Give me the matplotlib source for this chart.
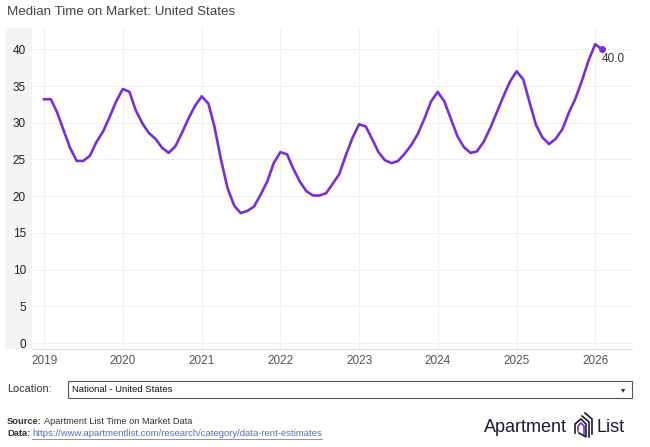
import numpy as np
import pandas as pd
import matplotlib
matplotlib.use("Agg")
import matplotlib.pyplot as plt
import matplotlib.dates as mdates
from matplotlib.patches import Rectangle

plt.rcParams["font.family"] = ["Liberation Sans", "DejaVu Sans"]

# median days on market, monthly from Jan 2019
values = [33.2, 33.2, 31.5, 29.0, 26.6, 24.8, 24.8, 25.5, 27.4, 28.8, 30.8, 32.9,
          34.6, 34.2, 31.7, 29.9, 28.6, 27.8, 26.6, 25.9, 26.8, 28.6, 30.6, 32.3,
          33.6, 32.6, 29.5, 24.9, 21.1, 18.7, 17.7, 18.0, 18.6, 20.2, 22.0, 24.5,
          26.0, 25.7, 23.8, 22.0, 20.7, 20.1, 20.1, 20.4, 21.7, 23.0, 25.6, 27.9,
          29.8, 29.5, 27.9, 26.0, 24.9, 24.5, 24.8, 25.8, 27.0, 28.5, 30.6, 32.9,
          34.2, 32.9, 30.6, 28.2, 26.7, 25.9, 26.1, 27.4, 29.3, 31.4, 33.6, 35.6,
          37.0, 35.9, 32.9, 29.7, 28.0, 27.1, 27.8, 29.1, 31.4, 33.3, 35.8, 38.5,
          40.7, 40.0]
start = "2019-01-01"
years = [2019, 2020, 2021, 2022, 2023, 2024, 2025, 2026]
yticks = [0, 5, 10, 15, 20, 25, 30, 35, 40]

months = pd.date_range(start, periods=len(values), freq="MS")

W, H = 650, 447
fig = plt.figure(figsize=(W / 100, H / 100), dpi=100)
fig.patch.set_facecolor("white")

def fx(px):
    return px / W

def fy(py):
    return 1 - py / H

# grey strip behind the y labels
fig.patches.append(Rectangle((fx(5), fy(349)), fx(27), fy(28) - fy(349),
                             transform=fig.transFigure, facecolor="#f4f4f4",
                             edgecolor="none", zorder=-1))

ax = fig.add_axes([fx(33), fy(349), fx(632 - 33), fy(28) - fy(349)])
ax.set_facecolor("white")

line_color = "#7a2ed6"
ax.plot(months, values, color=line_color, lw=1.9, solid_joinstyle="round", zorder=3)
ax.plot(months[-1], values[-1], "o", color=line_color, ms=4, zorder=4)
ax.annotate("%.1f" % values[-1], (months[-1], values[-1]), xytext=(0, -7),
            textcoords="offset points", ha="left", va="center", fontsize=8.5,
            color="#333333")

t0 = mdates.date2num(pd.Timestamp(start))
ax.set_xlim(t0 - 1.7 * 30.44, t0 + 89.6 * 30.44)
ax.set_ylim(-0.8, 42.9)

ax.set_xticks([pd.Timestamp(f"{y}-01-01") for y in years])
ax.set_xticklabels([str(y) for y in years])
ax.set_yticks(yticks)
ax.set_yticklabels([str(v) for v in yticks])
ax.tick_params(axis="x", length=0, pad=4, labelsize=8.5, labelcolor="#555555")
ax.tick_params(axis="y", length=0, pad=5, labelsize=8.5, labelcolor="#222222")

ax.grid(True, color="#f0f0f0", lw=0.8)
ax.set_axisbelow(True)
for s in ["top", "right", "left"]:
    ax.spines[s].set_visible(False)
ax.spines["bottom"].set_color("#dddddd")
ax.spines["bottom"].set_linestyle((0, (1, 1)))
ax.spines["bottom"].set_linewidth(0.8)

# title
fig.text(fx(7), fy(12), "Median Time on Market: United States", fontsize=9.6,
         color="#444444", ha="left", va="center")

# location selector
fig.text(fx(7), fy(389), "Location:", fontsize=7.8, color="#333333", ha="left", va="center")
fig.patches.append(Rectangle((fx(68), fy(398)), fx(632 - 68), fy(381) - fy(398),
                             transform=fig.transFigure, facecolor="white",
                             edgecolor="#555555", lw=0.8))
fig.text(fx(72), fy(389.5), "National - United States", fontsize=6.8, color="#111111",
         ha="left", va="center")
fig.text(fx(623), fy(390), "\u25be", fontsize=6, color="#333333", ha="center", va="center",
         family="DejaVu Sans")

# source lines
fig.canvas.draw()
rend = fig.canvas.get_renderer()
s1 = fig.text(fx(7), fy(421), "Source:", fontsize=6.7, weight="bold", color="#333333",
              ha="left", va="center")
w1 = s1.get_window_extent(rend).width
fig.text(fx(7 + w1 + 2), fy(421), "Apartment List Time on Market Data", fontsize=6.7,
         color="#333333", ha="left", va="center")
d1 = fig.text(fx(7), fy(434), "Data:", fontsize=6.7, weight="bold", color="#333333",
              ha="left", va="center")
w2 = d1.get_window_extent(rend).width
link = fig.text(fx(7 + w2 + 2), fy(434), "https://www.apartmentlist.com/research/category/data-rent-estimates",
                fontsize=6.8, color="#4b6fd8", ha="left", va="center")
lb = link.get_window_extent(rend)
fig.add_artist(plt.Line2D([lb.x0 / W, lb.x1 / W], [fy(439), fy(439)],
                          transform=fig.transFigure, color="#7b73e0", lw=0.6))

# logo
fig.text(fx(484), fy(428), "Apartment", fontsize=13, color="#1e1838", ha="left",
         va="center")
fig.text(fx(596), fy(428), "List", fontsize=13, color="#1e1838", ha="left", va="center")
icon = [([575, 575, 581, 586, 586, 579], [433, 424, 419, 424, 437, 433], "#1e1838"),
        ([578, 578, 581, 584, 584], [431, 426, 423, 426, 434], "#7a2ed6"),
        ([582, 589, 589], [416, 422, 437], "#1e1838"),
        ([585, 592, 592], [413, 419, 434], "#1e1838")]
for xs, ys, c in icon:
    fig.add_artist(plt.Line2D([fx(v) for v in xs], [fy(v) for v in ys],
                              transform=fig.transFigure, color=c, lw=1.2,
                              solid_joinstyle="miter"))

fig.savefig("out.png", dpi=100, facecolor="white")
